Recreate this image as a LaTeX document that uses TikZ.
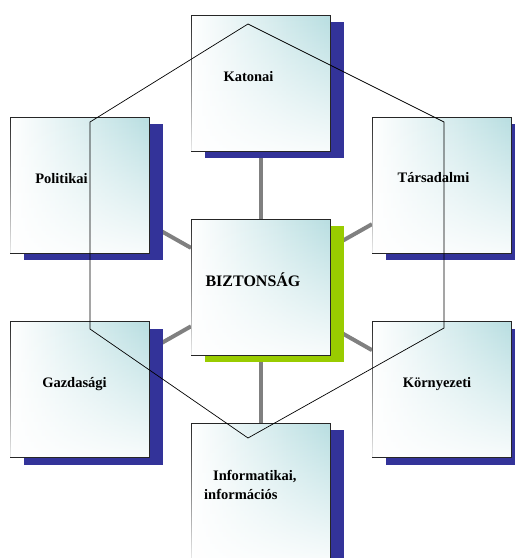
\documentclass[tikz,border=0pt]{standalone}
\usepackage{fontspec}
\setmainfont{Liberation Serif}
\usetikzlibrary{positioning,shadows,backgrounds,fadings}
\definecolor{shBlue}{RGB}{51,51,153}
\definecolor{shGreen}{RGB}{153,204,0}
\definecolor{boxTeal}{RGB}{184,222,225}
\definecolor{linkGray}{RGB}{128,128,128}

\begin{document}
\begin{tikzpicture}[x=1pt, y=1pt, node distance = 0mm,
  block/.style = {draw=black!85, line width=0.8pt, minimum width=139pt, minimum height=136pt,
    inner sep=0pt, outer sep=0pt, left color=white, right color=boxTeal,
    drop shadow={shadow xshift=14pt, shadow yshift=-7pt, fill=#1, opacity=1},
    postaction={fill=white, fill opacity=0.9, path fading=north}},
  block/.default = shBlue,
  lbl/.style = {font=\bfseries\fontsize{14.5}{19}\selectfont, inner sep=0pt, anchor=base},
  link/.style = {draw=linkGray, line width=4pt}]
\useasboundingbox (0,0) rectangle (515,-558);
\clip (0,0) rectangle (515,-558);

\node (boxBiz) [block=shGreen] at (260.5,-287) {};
\node (boxKat) [block, above=68pt of boxBiz] {};
\node (boxInf) [block, below=68pt of boxBiz] {};
\node (boxPol) [block, left=42pt of boxBiz, yshift=102pt] {};
\node (boxGaz) [block, left=42pt of boxBiz, yshift=-102.5pt] {};
\node (boxTar) [block, right=42pt of boxBiz, yshift=102pt] {};
\node (boxKor) [block, right=42pt of boxBiz, yshift=-102.5pt] {};

\begin{scope}[on background layer]
\draw[link] (boxBiz) -- (boxKat);
\draw[link] (boxBiz) -- (boxInf);
\draw[link] (boxBiz) -- (boxPol);
\draw[link] (boxBiz) -- (boxGaz);
\draw[link] (boxBiz) -- (boxTar);
\draw[link] (boxBiz) -- (boxKor);
\end{scope}

\draw[line width=0.7pt] (248,-24) -- (444,-122) -- (444,-328) -- (248,-438)
  -- (90,-329) -- (90,-122) -- cycle;

\node (txtBiz) [lbl, font=\bfseries\fontsize{16}{19}\selectfont] at ([shift={(-7.5pt,1pt)}]boxBiz.center) {BIZTONSÁG};
\node (txtKat) [lbl] at ([shift={(-12pt,2pt)}]boxKat.center) {Katonai};
\node (txtPol) [lbl] at ([shift={(-18pt,2pt)}]boxPol.center) {Politikai};
\node (txtTar) [lbl] at ([shift={(-8pt,3pt)}]boxTar.center) {Társadalmi};
\node (txtGaz) [lbl] at ([shift={(-5pt,2.5pt)}]boxGaz.center) {Gazdasági};
\node (txtKor) [lbl] at ([shift={(-4.5pt,2.5pt)}]boxKor.center) {Környezeti};
\node (txtInf) [lbl, anchor=base west, align=left] at ([shift={(-56.5pt,-8pt)}]boxInf.center)
  {\hspace*{9pt}Informatikai,\\információs};
\end{tikzpicture}
\end{document}
